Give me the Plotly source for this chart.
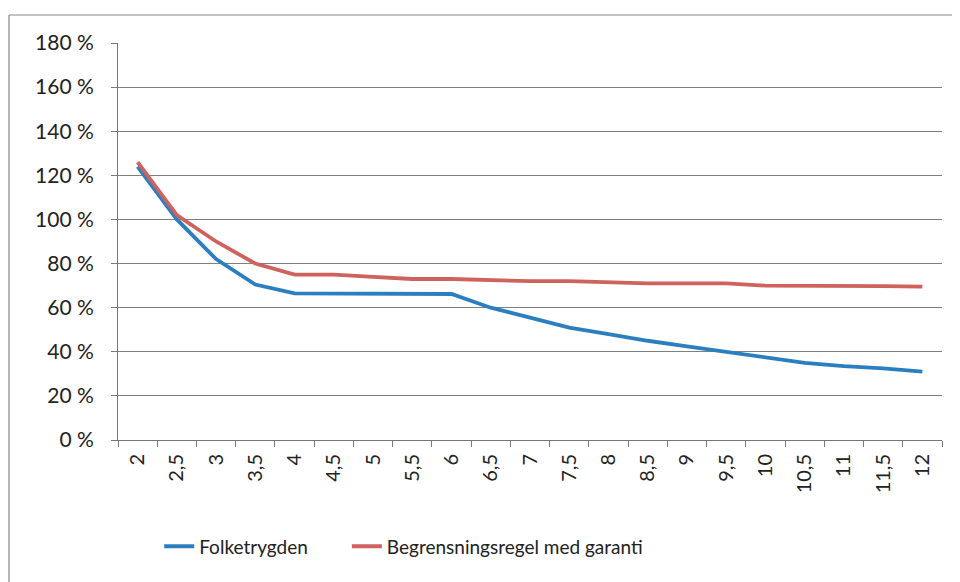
import plotly.graph_objects as go

categories = ["2", "2,5", "3", "3,5", "4", "4,5", "5", "5,5", "6", "6,5", "7",
              "7,5", "8", "8,5", "9", "9,5", "10", "10,5", "11", "11,5", "12"]
folketrygden = [124, 100, 82, 70.5, 66.5, 66.5, 66.3, 66.2, 66.2, 60, 55.5,
                51, 48, 45, 42.5, 40, 37.5, 35, 33.5, 32.5, 31]
begrensning = [126, 102, 90, 80, 75, 75, 74, 73, 73, 72.5, 72,
               72, 71.5, 71, 71, 71, 70, 70, 70, 69.8, 69.5]
y_ticks = [0, 20, 40, 60, 80, 100, 120, 140, 160, 180]
y_labels = [f"{v} %" for v in y_ticks]
series_names = ["Folketrygden", "Begrensningsregel med garanti"]

FONT = "Lato"
PW, PH = 824, 397
fig = go.Figure()
fig.add_trace(go.Scatter(x=categories, y=folketrygden, mode="lines",
                         name=series_names[0] + "\u00a0" * 7,
                         line=dict(color="#2b7fc0", width=3.8)))
fig.add_trace(go.Scatter(x=categories, y=begrensning, mode="lines",
                         name=series_names[1],
                         line=dict(color="#cf625c", width=3.8)))

fig.update_layout(
    width=952, height=574,
    margin=dict(l=110, r=18, t=35, b=142),
    paper_bgcolor="white", plot_bgcolor="white",
    font=dict(family=FONT, size=19, color="#222"),
    showlegend=True,
    legend=dict(orientation="h", x=0.05, xanchor="left", y=-0.268, yanchor="middle",
                font=dict(family=FONT, size=19, color="#222"), itemwidth=30,
                traceorder="normal"),
    xaxis=dict(type="category", range=[-0.5, 20.5], tickangle=-90, showline=True,
               linecolor="#777", linewidth=1,
               ticks="outside", ticklen=6, tickcolor="#777", tickson="boundaries",
               showgrid=False, tickfont=dict(size=20), ticklabelstandoff=5),
    yaxis=dict(range=[0, 180], tickvals=y_ticks, ticktext=y_labels, showline=True,
               linecolor="#777", linewidth=1, ticks="outside", ticklen=6, tickcolor="#777",
               showgrid=True, gridcolor="#808080", gridwidth=1, zeroline=False,
               tickfont=dict(size=21), ticklabelstandoff=13),
    shapes=[
        dict(type="line", xref="paper", yref="paper", x0=-109 / PW, x1=1 + 18 / PW,
             y0=1 + 28 / PH, y1=1 + 28 / PH, line=dict(color="#888", width=1.2)),
        dict(type="line", xref="paper", yref="paper", x0=-109 / PW, x1=-109 / PW,
             y0=1 + 28 / PH, y1=-142 / PH, line=dict(color="#888", width=1.2)),
    ],
)
fig.write_html("out.html")
